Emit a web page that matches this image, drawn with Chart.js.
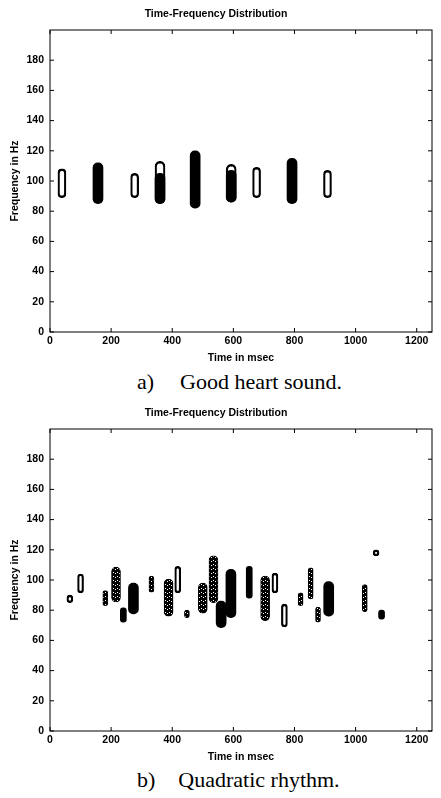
<!DOCTYPE html>
<html>
<head>
<meta charset="utf-8">
<script src="https://cdn.jsdelivr.net/npm/chart.js@4.4.1/dist/chart.umd.min.js"></script>
<style>
  body { margin: 0; background: #fff; width: 441px; height: 798px; overflow: hidden; position: relative; }
  canvas { position: absolute; left: 0; }
  .cap { position: absolute; font-family: "Liberation Serif", "Times New Roman", serif; font-size: 22px; line-height: 22px; color: #000; white-space: pre; }
</style>
</head>
<body>
<canvas id="tfdA" width="441" height="368" style="top:0px"></canvas>
<div class="cap" style="left:137px; top:371px">a)<span style="margin-left:26px">Good heart sound.</span></div>
<canvas id="tfdB" width="441" height="368" style="top:399px"></canvas>
<div class="cap" style="left:137px; top:769px">b)<span style="margin-left:23px">Quadratic rhythm.</span></div>

<script>
// Eixos
var xTicks = [0, 200, 400, 600, 800, 1000, 1200];
var yTicks = [0, 20, 40, 60, 80, 100, 120, 140, 160, 180];
var xMax = 1250;
var yMax = 200;

// a) Good heart sound - componentes (tempo em ms, freq. baixa/alta em Hz)
var aFillT = [157, 360, 475, 593, 792];
var aFillLo = [85, 85, 82, 86, 85];
var aFillHi = [112, 105, 120, 107, 115];

var aRingT = [39, 277, 676, 908];
var aRingLo = [89, 89, 89, 89];
var aRingHi = [108, 105, 109, 107];

var aCapT = [360, 593];
var aCapLo = [85, 86];
var aCapHi = [113, 111];

// b) Quadratic rhythm
var bFillT = [273, 560, 592, 912];
var bFillLo = [77.6, 68.5, 75, 76];
var bFillHi = [98, 86, 107, 99];

var bFillNT = [240, 652, 1085];
var bFillNLo = [72, 88, 74];
var bFillNHi = [81.5, 109, 80];

var bDotT = [216, 388, 500, 535, 704];
var bDotLo = [85.5, 76, 78, 85, 73];
var bDotHi = [108.5, 100.6, 98, 116, 102.6];

var bDotNT = [181, 332, 448, 820, 853, 877, 1030];
var bDotNLo = [83, 92, 75, 83, 87.5, 72, 79];
var bDotNHi = [93, 102.6, 80, 91.5, 108, 82, 97];

var bRingT = [65, 100, 418, 736, 767, 1067];
var bRingLo = [85, 91.5, 91.5, 91.5, 69, 116];
var bRingHi = [90, 104, 109, 104.6, 84, 120];

Chart.defaults.font.family = "'Liberation Sans', Arial, sans-serif";
Chart.defaults.font.weight = "bold";
Chart.defaults.color = "#000";

// textura pontilhada
function speckle() {
  var c = document.createElement("canvas");
  c.width = 4;
  c.height = 4;
  var g = c.getContext("2d");
  g.fillStyle = "#000";
  g.fillRect(0, 0, 4, 4);
  g.fillStyle = "#fff";
  g.fillRect(1, 1, 1, 1);
  g.fillRect(3, 2, 1, 1);
  return g.createPattern(c, "repeat");
}

function pontos(t, lo, hi) {
  var lista = [];
  for (var i = 0; i < t.length; i++) {
    lista.push({ x: t[i], y: [lo[i], hi[i]] });
  }
  return lista;
}

function cheio(t, lo, hi, w) {
  return {
    data: pontos(t, lo, hi),
    backgroundColor: "#000",
    borderColor: "#000",
    borderWidth: 0,
    borderRadius: 100,
    borderSkipped: false,
    barThickness: w,
  };
}

function pontilhado(t, lo, hi, w) {
  return {
    data: pontos(t, lo, hi),
    backgroundColor: speckle(),
    borderColor: "#000",
    borderWidth: 1,
    borderRadius: 100,
    borderSkipped: false,
    barThickness: w,
  };
}

function anel(t, lo, hi, w) {
  return {
    data: pontos(t, lo, hi),
    backgroundColor: "rgba(0,0,0,0)",
    borderColor: "#000",
    borderWidth: 1.5,
    borderRadius: 100,
    borderSkipped: false,
    barThickness: w,
  };
}

// caixa com ticks para dentro (estilo MATLAB)
var caixa = {
  id: "caixa",
  afterDraw: function (chart) {
    var ctx = chart.ctx;
    var a = chart.chartArea;
    var x = chart.scales.x;
    var y = chart.scales.y;
    ctx.save();
    ctx.strokeStyle = "#000";
    ctx.lineWidth = 1;
    ctx.strokeRect(a.left, a.top, a.right - a.left, a.bottom - a.top);
    ctx.beginPath();
    x.ticks.forEach(function (t) {
      var px = x.getPixelForValue(t.value);
      ctx.moveTo(px, a.bottom);
      ctx.lineTo(px, a.bottom - 4);
      ctx.moveTo(px, a.top);
      ctx.lineTo(px, a.top + 4);
    });
    y.ticks.forEach(function (t) {
      var py = y.getPixelForValue(t.value);
      ctx.moveTo(a.left, py);
      ctx.lineTo(a.left + 4, py);
      ctx.moveTo(a.right, py);
      ctx.lineTo(a.right - 4, py);
    });
    ctx.stroke();
    ctx.restore();
  },
};

function renderTFD(id, datasets) {
  var ctx = document.getElementById(id).getContext("2d");
  return new Chart(ctx, {
    type: "bar",
    data: { datasets: datasets },
    plugins: [caixa],
    options: {
      responsive: false,
      animation: false,
      devicePixelRatio: 1,
      layout: { padding: { left: 0, right: 9, top: 0, bottom: 0 } },
      datasets: { bar: { grouped: false } },
      plugins: {
        legend: { display: false },
        tooltip: { enabled: false },
        title: {
          display: true,
          text: "Time-Frequency Distribution",
          font: { size: 10.5, weight: "bold" },
          padding: { top: 7.5, bottom: 9.9 },
        },
      },
      scales: {
        x: {
          type: "linear",
          min: 0,
          max: xMax,
          offset: false,
          afterBuildTicks: function (s) {
            s.ticks = xTicks.map(function (v) { return { value: v }; });
          },
          afterFit: function (s) { s.height = 36; },
          ticks: {
            font: { size: 10.5 },
            padding: 3,
            maxRotation: 0,
            autoSkip: false,
            callback: function (value) { return String(value); },
          },
          grid: { display: false, drawTicks: false },
          border: { display: false },
          title: {
            display: true,
            text: "Time in msec",
            font: { size: 10.5, weight: "bold" },
            padding: { top: 0, bottom: 3.2 },
          },
        },
        y: {
          min: 0,
          max: yMax,
          afterBuildTicks: function (s) {
            s.ticks = yTicks.map(function (v) { return { value: v }; });
          },
          afterFit: function (s) { s.width = 50; },
          ticks: {
            font: { size: 10.5 },
            padding: 6,
            autoSkip: false,
            callback: function (value) { return String(value); },
          },
          grid: { display: false, drawTicks: false },
          border: { display: false },
          title: {
            display: true,
            text: "Frequency in Hz",
            font: { size: 10.5, weight: "bold" },
            padding: { top: 9, bottom: 0 },
          },
        },
      },
    },
  });
}

renderTFD("tfdA", [
  cheio(aFillT, aFillLo, aFillHi, 10),
  anel(aCapT, aCapLo, aCapHi, 10),
  anel(aRingT, aRingLo, aRingHi, 8),
]);

renderTFD("tfdB", [
  cheio(bFillT, bFillLo, bFillHi, 10),
  cheio(bFillNT, bFillNLo, bFillNHi, 6),
  pontilhado(bDotT, bDotLo, bDotHi, 9),
  pontilhado(bDotNT, bDotNLo, bDotNHi, 5),
  anel(bRingT, bRingLo, bRingHi, 6),
]);
</script>
</body>
</html>
